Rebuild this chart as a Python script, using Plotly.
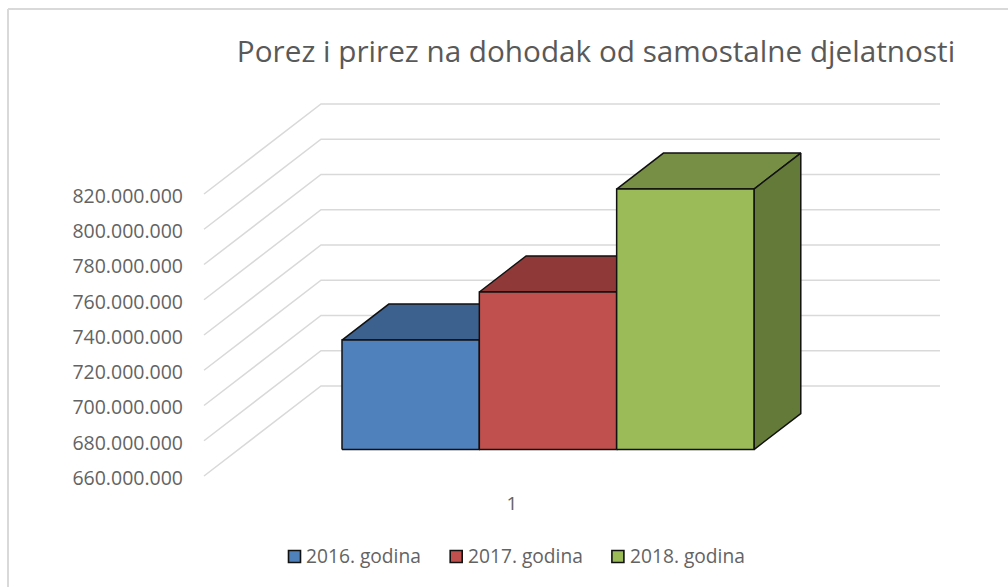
import plotly.graph_objects as go

TITLE = "Porez i prirez na dohodak od samostalne djelatnosti"
series = ["2016. godina", "2017. godina", "2018. godina"]
values = [722_100_000, 749_400_000, 807_800_000]
front_colors = ["#4F81BD", "#C0504D", "#9BBB59"]
top_colors = ["#3C618F", "#8F3A38", "#778F44"]
side_colors = ["#39577F", "#823533", "#647A38"]
tick_values = [660_000_000 + 20_000_000 * i for i in range(9)]
tick_labels = [f"{v:,}".replace(",", ".") for v in tick_values]
category_labels = ["1"]

W, H = 1008, 587
PX_PER_UNIT = 35.25 / 20_000_000      # vertical pixels per value unit
Y_BASE_PX = 476.0                     # pixel row of the axis minimum at the front wall
DEPTH_X, DEPTH_PX = 117.0, 90.0       # oblique projection of the full floor depth
AXIS_X, WALL_END_X = 204.0, 940.0
BAR_T0, BAR_T1 = 0.294, 0.694         # depth of the bars' front and back planes
BAR_LEFT, BAR_WIDTH = 342.0 - BAR_T0 * DEPTH_X, 137.33
VMIN = tick_values[0]
TEXT_COLOR = "#636363"


def project(x, t, v):
    """Oblique projection: x position, depth fraction t, value v -> axis coords."""
    return x + t * DEPTH_X, v + t * DEPTH_PX / PX_PER_UNIT


def poly(points):
    xs, ys = zip(*[project(*p) for p in points])
    return list(xs) + [xs[0]], list(ys) + [ys[0]]


fig = go.Figure()

# receding gridlines on side wall and back wall
for v in tick_values:
    x0, y0 = project(AXIS_X, 0, v)
    x1, y1 = project(AXIS_X, 1, v)
    fig.add_trace(go.Scatter(x=[x0, x1, WALL_END_X], y=[y0, y1, y1], mode="lines",
                             line=dict(color="#D9D9D9", width=1.5),
                             showlegend=False, hoverinfo="skip"))

# bars
for i, (name, v) in enumerate(zip(series, values)):
    xl = BAR_LEFT + i * BAR_WIDTH
    xr = xl + BAR_WIDTH
    faces = [
        ([(xl, BAR_T0, v), (xr, BAR_T0, v), (xr, BAR_T1, v), (xl, BAR_T1, v)], top_colors[i]),
        ([(xr, BAR_T0, VMIN), (xr, BAR_T1, VMIN), (xr, BAR_T1, v), (xr, BAR_T0, v)], side_colors[i]),
        ([(xl, BAR_T0, VMIN), (xr, BAR_T0, VMIN), (xr, BAR_T0, v), (xl, BAR_T0, v)], front_colors[i]),
    ]
    for pts, col in faces:
        xs, ys = poly(pts)
        fig.add_trace(go.Scatter(x=xs, y=ys, mode="lines", fill="toself", fillcolor=col,
                                 line=dict(color="#111111", width=1.5),
                                 name=name, showlegend=False, hoverinfo="name"))

# legend row
LEG_Y = VMIN + (Y_BASE_PX - 556.5) / PX_PER_UNIT
LEG_TEXT_Y = VMIN + (Y_BASE_PX - 558.0) / PX_PER_UNIT
for i, name in enumerate(series):
    fig.add_trace(go.Scatter(
        x=[294.5 + i * 161.7], y=[LEG_Y], mode="markers",
        marker=dict(symbol="square", size=12, color=front_colors[i],
                    line=dict(color="#111111", width=1.6)),
        name=name, showlegend=False, cliponaxis=False))
    fig.add_trace(go.Scatter(
        x=[306 + i * 162], y=[LEG_TEXT_Y], mode="text", text=[name],
        textposition="middle right",
        textfont=dict(family="Open Sans", size=19.2, color=TEXT_COLOR),
        name=name, showlegend=False, cliponaxis=False, hoverinfo="skip"))

fig.update_layout(
    width=W, height=H, margin=dict(l=0, r=0, t=0, b=0),
    paper_bgcolor="white", plot_bgcolor="rgba(0,0,0,0)", showlegend=False,
    title=dict(text=TITLE, x=596 / W, xanchor="center", y=1 - 52 / H, yanchor="middle",
               font=dict(family="Open Sans", size=29.7, color="#595959")),
    xaxis=dict(range=[0, W], domain=[0, 1], showgrid=False, zeroline=False, showline=False,
               anchor="free", position=1 - 490 / H,
               tickmode="array", tickvals=[512], ticktext=category_labels, ticks="",
               tickfont=dict(family="Open Sans", size=19, color=TEXT_COLOR)),
    yaxis=dict(range=[VMIN - (H - Y_BASE_PX) / PX_PER_UNIT, VMIN + Y_BASE_PX / PX_PER_UNIT],
               domain=[0, 1], showgrid=False, zeroline=False, showline=False,
               anchor="free", position=AXIS_X / W,
               tickmode="array", tickvals=tick_values, ticktext=tick_labels, ticks="",
               ticklabelstandoff=21, ticklabelshift=2,
               tickfont=dict(family="Open Sans", size=19.5, color=TEXT_COLOR)),
    shapes=[
        dict(type="line", xref="paper", yref="paper", x0=8 / W, x1=1, y0=1 - 9 / H, y1=1 - 9 / H,
             line=dict(color="#D9D9D9", width=2)),
        dict(type="line", xref="paper", yref="paper", x0=8 / W, x1=8 / W, y0=0, y1=1 - 9 / H,
             line=dict(color="#D9D9D9", width=2)),
    ],
)

fig.write_html("out.html", config=dict(displayModeBar=False),
               post_script="document.body.style.margin='0';")
